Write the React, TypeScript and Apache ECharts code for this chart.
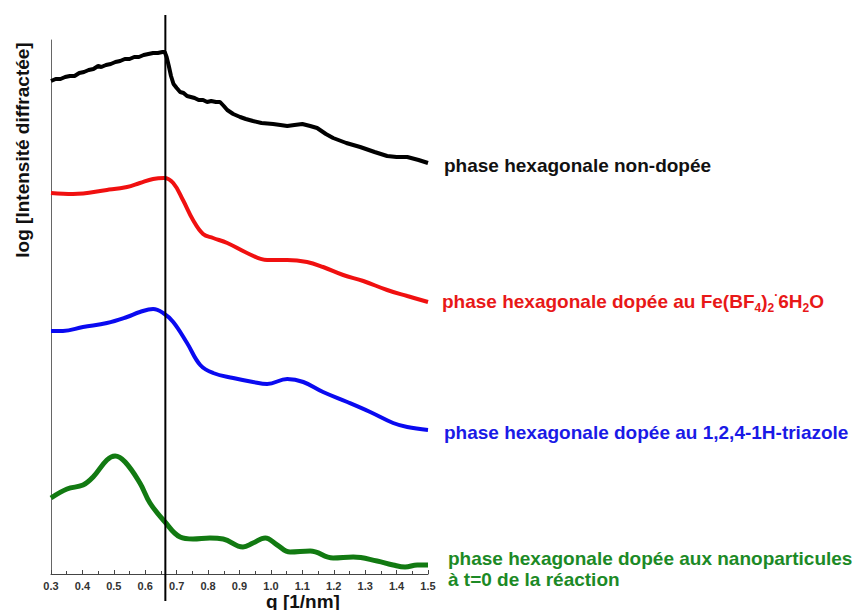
import { useEffect, useRef } from "react";
import * as echarts from "echarts";

// Scattering vector q [1/nm]
const qMin = 0.3;
const qMax = 1.5;
const qStep = 0.1;
// Position of the reference line drawn across all curves
const markerQ = 0.664;

// log(intensity), curves stacked with arbitrary vertical offsets
const undoped: [number, number][] = [
  [0.3, 4.93], [0.315, 4.95], [0.33, 4.95], [0.345, 4.97], [0.36, 4.98], [0.375, 4.98],
  [0.39, 5.01], [0.405, 5.02], [0.42, 5.04], [0.435, 5.05], [0.45, 5.08], [0.46, 5.07],
  [0.475, 5.09], [0.49, 5.1], [0.505, 5.12], [0.52, 5.13], [0.535, 5.15], [0.55, 5.15],
  [0.565, 5.17], [0.58, 5.17], [0.595, 5.19], [0.61, 5.2], [0.625, 5.21], [0.64, 5.21],
  [0.655, 5.22], [0.662, 5.22], [0.668, 5.17], [0.675, 5.08], [0.682, 4.98], [0.69, 4.9],
  [0.7, 4.86], [0.711, 4.82], [0.722, 4.81], [0.733, 4.78], [0.745, 4.77], [0.757, 4.76],
  [0.77, 4.74], [0.784, 4.74], [0.797, 4.72], [0.81, 4.73], [0.825, 4.72], [0.838, 4.72],
  [0.85, 4.68], [0.861, 4.64], [0.88, 4.6], [0.902, 4.57], [0.92, 4.55], [0.943, 4.53],
  [0.97, 4.51], [1.007, 4.5], [1.03, 4.49], [1.052, 4.48], [1.075, 4.49], [1.1, 4.5],
  [1.125, 4.48], [1.147, 4.46], [1.175, 4.4], [1.198, 4.36], [1.24, 4.31], [1.284, 4.27],
  [1.33, 4.22], [1.37, 4.18], [1.4, 4.17], [1.434, 4.17], [1.47, 4.14], [1.5, 4.11],
];

const dopedFe: [number, number][] = [
  [0.3, 3.81], [0.37, 3.8], [0.478, 3.84], [0.542, 3.87], [0.583, 3.91], [0.625, 3.95],
  [0.66, 3.96], [0.689, 3.91], [0.72, 3.74], [0.752, 3.54], [0.784, 3.4], [0.816, 3.36],
  [0.861, 3.31], [0.924, 3.21], [0.988, 3.14], [1.052, 3.14], [1.115, 3.12], [1.166, 3.07],
  [1.23, 2.99], [1.294, 2.93], [1.37, 2.84], [1.434, 2.78], [1.5, 2.72],
];

const dopedTriazole: [number, number][] = [
  [0.3, 2.43], [0.338, 2.43], [0.402, 2.47], [0.478, 2.51], [0.542, 2.57], [0.583, 2.62],
  [0.625, 2.65], [0.657, 2.61], [0.689, 2.52], [0.733, 2.31], [0.775, 2.09], [0.816, 2.01],
  [0.88, 1.96], [0.943, 1.92], [0.988, 1.9], [1.052, 1.95], [1.103, 1.92], [1.166, 1.82],
  [1.243, 1.72], [1.316, 1.62], [1.389, 1.51], [1.434, 1.47], [1.5, 1.44],
];

const dopedNano: [number, number][] = [
  [0.3, 0.76], [0.351, 0.85], [0.402, 0.89], [0.434, 0.97], [0.478, 1.14], [0.504, 1.18],
  [0.536, 1.12], [0.583, 0.91], [0.615, 0.71], [0.663, 0.52], [0.711, 0.37], [0.752, 0.35],
  [0.806, 0.36], [0.848, 0.35], [0.911, 0.27], [0.943, 0.31], [0.982, 0.36], [1.02, 0.29],
  [1.061, 0.22], [1.125, 0.23], [1.198, 0.16], [1.262, 0.17], [1.338, 0.13], [1.389, 0.09],
  [1.427, 0.07], [1.466, 0.09], [1.5, 0.09],
];

const labelUndoped = "phase hexagonale non-dopée";
const labelFe = "phase hexagonale dopée au Fe(BF{sub|4}){sub|2}{sup|·}6H{sub|2}O";
const labelTriazole = "phase hexagonale dopée au 1,2,4-1H-triazole";
const labelNano = "phase hexagonale dopée aux nanoparticules\nà t=0 de la réaction";

const xAxisTitle = "q [1/nm]";
const yAxisTitle = "log [Intensité diffractée]";

const FONT = "'Liberation Sans', Arial, sans-serif";

function endLabel(text: string, color: string, offset: [number, number], extra: object = {}) {
  return {
    show: true,
    formatter: () => text,
    color,
    fontFamily: FONT,
    fontWeight: "bold",
    fontSize: 19,
    align: "left",
    verticalAlign: "middle",
    distance: 0,
    offset,
    ...extra,
  };
}

export default function App() {
  const ref = useRef<HTMLDivElement>(null);

  useEffect(() => {
    const chart = echarts.init(ref.current!, null, { renderer: "svg" });
    const subStyle = (color: string) => ({
      fontSize: 12,
      fontWeight: "bold",
      fontFamily: FONT,
      color,
      padding: [14, 0, 0, 0],
    });
    chart.setOption({
      animation: false,
      backgroundColor: "#ffffff",
      grid: { left: 51, right: 429, top: 40, bottom: 36, containLabel: false },
      xAxis: {
        type: "value",
        min: qMin,
        max: qMax,
        interval: qStep,
        axisLine: { show: true, lineStyle: { color: "#444", width: 1 } },
        axisTick: { show: true, inside: true, length: 4, lineStyle: { color: "#444" } },
        minorTick: { show: true, splitNumber: 2, length: 3, lineStyle: { color: "#444" } },
        splitLine: { show: false },
        axisLabel: {
          formatter: (v: number) => v.toFixed(1),
          fontFamily: FONT,
          fontWeight: "bold",
          fontSize: 11,
          color: "#333",
          margin: 6,
        },
      },
      yAxis: {
        type: "value",
        min: 0,
        max: 5.34,
        axisLine: { show: true, lineStyle: { color: "#666", width: 1 } },
        axisTick: { show: false },
        axisLabel: { show: false },
        splitLine: { show: false },
      },
      series: [
        {
          type: "line",
          name: "non-dopée",
          data: undoped,
          showSymbol: false,
          smooth: false,
          lineStyle: { color: "#000000", width: 4 },
          endLabel: endLabel(labelUndoped, "#111111", [16, 2]),
        },
        {
          type: "line",
          name: "Fe(BF4)2",
          data: dopedFe,
          showSymbol: false,
          smooth: 0.4,
          lineStyle: { color: "#f01010", width: 4 },
          endLabel: endLabel(labelFe, "#e81818", [14, -1], {
            rich: {
              sub: subStyle("#e81818"),
              sup: { ...subStyle("#e81818"), padding: [0, 0, 12, 0] },
            },
          }),
        },
        {
          type: "line",
          name: "triazole",
          data: dopedTriazole,
          showSymbol: false,
          smooth: 0.4,
          lineStyle: { color: "#0a0af0", width: 4 },
          endLabel: endLabel(labelTriazole, "#1a1ae6", [16, 2]),
        },
        {
          type: "line",
          name: "nanoparticules",
          data: dopedNano,
          showSymbol: false,
          smooth: 0.4,
          lineStyle: { color: "#127a12", width: 5 },
          endLabel: endLabel(labelNano, "#1c8a26", [20, 4], { lineHeight: 21 }),
        },
      ],
    });

    const markerX = chart.convertToPixel({ xAxisIndex: 0 }, markerQ) as number;
    chart.setOption({
      graphic: [
        {
          type: "line",
          shape: { x1: markerX, y1: 15, x2: markerX, y2: 601 },
          style: { stroke: "#000", lineWidth: 2 },
          z: 10,
        },
        {
          type: "text",
          x: 22,
          y: 150,
          rotation: Math.PI / 2,
          style: {
            text: yAxisTitle,
            font: `bold 19px ${FONT}`,
            fill: "#111",
            align: "center",
            verticalAlign: "middle",
          },
        },
        {
          type: "text",
          x: 303,
          y: 601,
          style: {
            text: xAxisTitle,
            font: `bold 19px ${FONT}`,
            fill: "#111",
            align: "center",
            verticalAlign: "middle",
          },
        },
      ],
    });

    return () => chart.dispose();
  }, []);

  return (
    <div
      ref={ref}
      style={{ position: "fixed", left: 0, top: 0, width: 857, height: 610, background: "#fff" }}
    />
  );
}
